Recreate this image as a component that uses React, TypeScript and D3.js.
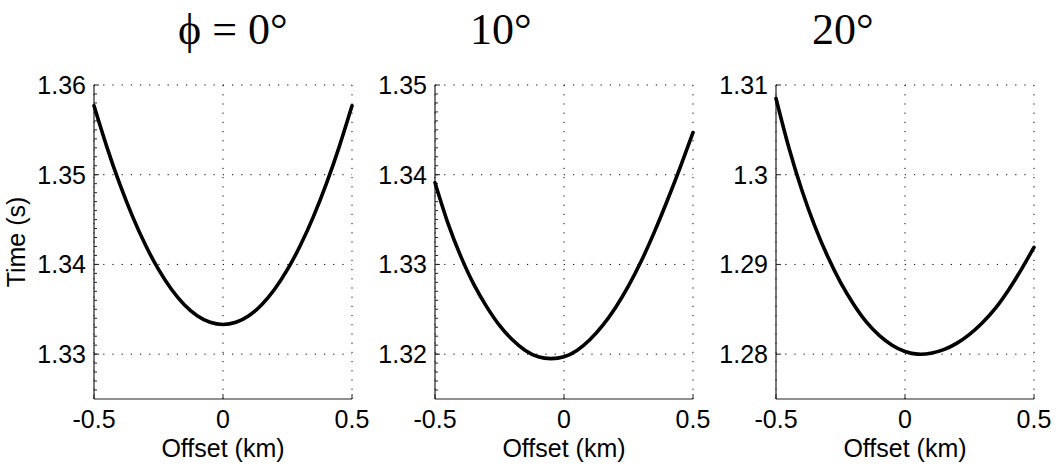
import React from "react";
import * as d3 from "d3";

// offsets (km) shared by the three panels
const offsets = [
  -0.5, -0.45, -0.4, -0.35, -0.3, -0.25, -0.2, -0.15, -0.1, -0.05, 0,
  0.05, 0.1, 0.15, 0.2, 0.25, 0.3, 0.35, 0.4, 0.45, 0.5,
];

// traveltimes (s)
const time0 = [
  1.35769, 1.35308, 1.34895, 1.3453, 1.34213, 1.33944, 1.33723, 1.33551, 1.33428, 1.33355, 1.3333,
  1.33355, 1.33428, 1.33551, 1.33723, 1.33944, 1.34213, 1.3453, 1.34895, 1.35308, 1.35769,
];
const time10 = [
  1.3391, 1.3346, 1.3309, 1.3278, 1.3253, 1.3232, 1.3216, 1.3204, 1.3197, 1.3195, 1.3197,
  1.3204, 1.3216, 1.3232, 1.3252, 1.3276, 1.3304, 1.3336, 1.3371, 1.3408, 1.3447,
];
const time20 = [
  1.3085, 1.303, 1.2983, 1.2943, 1.2909, 1.288, 1.2856, 1.2836, 1.2821, 1.281, 1.2803,
  1.28, 1.2801, 1.2805, 1.2812, 1.2822, 1.2835, 1.2851, 1.2871, 1.2894, 1.2919,
];

const titles = ["\u03d5 = 0\u00b0", "10\u00b0", "20\u00b0"];
const xTicks = [-0.5, 0, 0.5];
const xTickLabels = ["-0.5", "0", "0.5"];
const yTicks0 = [1.33, 1.34, 1.35, 1.36];
const yTicks10 = [1.32, 1.33, 1.34, 1.35];
const yTicks20 = [1.28, 1.29, 1.3, 1.31];
const yTickLabels0 = ["1.33", "1.34", "1.35", "1.36"];
const yTickLabels10 = ["1.32", "1.33", "1.34", "1.35"];
const yTickLabels20 = ["1.28", "1.29", "1.3", "1.31"];
const yLimits0 = [1.325, 1.36];
const yLimits10 = [1.315, 1.35];
const yLimits20 = [1.275, 1.31];

const W = 1058;
const H = 470;
const top = 85;
const bottom = 399;
const pw = 258;
const sans = "'Liberation Sans', Arial, Helvetica, sans-serif";
const serif = "'Liberation Serif', 'Times New Roman', serif";
const fs = 25;

const panels = [
  { left: 94, times: time0, ticks: yTicks0, labels: yTickLabels0, lim: yLimits0, title: titles[0], tx: 84, minor: true },
  { left: 435, times: time10, ticks: yTicks10, labels: yTickLabels10, lim: yLimits10, title: titles[1], tx: 35, minor: true },
  { left: 776, times: time20, ticks: yTicks20, labels: yTickLabels20, lim: yLimits20, title: titles[2], tx: 36, minor: false },
];

const Panel = ({ p, first }: any) => {
  const x = d3.scaleLinear().domain([-0.5, 0.5]).range([p.left, p.left + pw]);
  const y = d3.scaleLinear().domain(p.lim).range([bottom, top]);
  const line = d3
    .line<number>()
    .x((_, i) => x(offsets[i]))
    .y((d) => y(d))
    .curve(d3.curveNatural);
  const minorTicks = d3.range(p.lim[0] + 0.001, p.lim[1] - 0.0005, 0.001);
  const dots = "1.2 8";
  return (
    <g>
      {/* grid */}
      {p.ticks.map((t: number) => (
        <line key={"gy" + t} x1={x(-0.5)} x2={x(0.5)} y1={y(t)} y2={y(t)}
          stroke="#000" strokeWidth={1} strokeDasharray={dots} />
      ))}
      {xTicks.map((t) => (
        <line key={"gx" + t} x1={x(t)} x2={x(t)} y1={top} y2={bottom}
          stroke="#000" strokeWidth={1} strokeDasharray={dots} />
      ))}
      {/* axes */}
      <line x1={p.left} x2={p.left} y1={top} y2={bottom} stroke="#222" strokeWidth={1.2} />
      <line x1={p.left} x2={p.left + pw} y1={bottom} y2={bottom} stroke="#222" strokeWidth={1.2} />
      {p.minor &&
        minorTicks.map((t: number) => (
          <line key={"m" + t} x1={p.left} x2={p.left + 3} y1={y(t)} y2={y(t)} stroke="#222" strokeWidth={1} />
        ))}
      {p.ticks.map((t: number) => (
        <line key={"ty" + t} x1={p.left} x2={p.left + 5} y1={y(t)} y2={y(t)} stroke="#222" strokeWidth={1} />
      ))}
      {xTicks.map((t) => (
        <line key={"tx" + t} x1={x(t)} x2={x(t)} y1={bottom} y2={bottom - 5} stroke="#222" strokeWidth={1} />
      ))}
      {/* curve */}
      <path d={line(p.times) || ""} fill="none" stroke="#000" strokeWidth={3.6}
        strokeLinejoin="round" strokeLinecap="round" />
      {/* labels */}
      {p.ticks.map((t: number, i: number) => (
        <text key={"ly" + t} x={p.left - 8} y={y(t) + 9} textAnchor="end"
          fontFamily={sans} fontSize={fs} fill="#000">{p.labels[i]}</text>
      ))}
      {xTicks.map((t, i) => (
        <text key={"lx" + t} x={x(t)} y={428} textAnchor="middle"
          fontFamily={sans} fontSize={fs} fill="#000">{xTickLabels[i]}</text>
      ))}
      <text x={p.left + pw / 2} y={457} textAnchor="middle" fontFamily={sans} fontSize={fs} fill="#000">
        Offset (km)
      </text>
      <text x={p.left + p.tx} y={44} fontFamily={serif} fontSize={44} fill="#000">{p.title}</text>
      {first && (
        <text transform={`translate(25, ${(top + bottom) / 2}) rotate(-90)`} textAnchor="middle"
          fontFamily={sans} fontSize={fs} fill="#000">Time (s)</text>
      )}
    </g>
  );
};

export default function App() {
  return (
    <svg width={W} height={H} style={{ position: "absolute", left: 0, top: 0, background: "#fff" }}>
      <rect width={W} height={H} fill="#fff" />
      {panels.map((p, i) => (
        <Panel key={i} p={p} first={i === 0} />
      ))}
    </svg>
  );
}
